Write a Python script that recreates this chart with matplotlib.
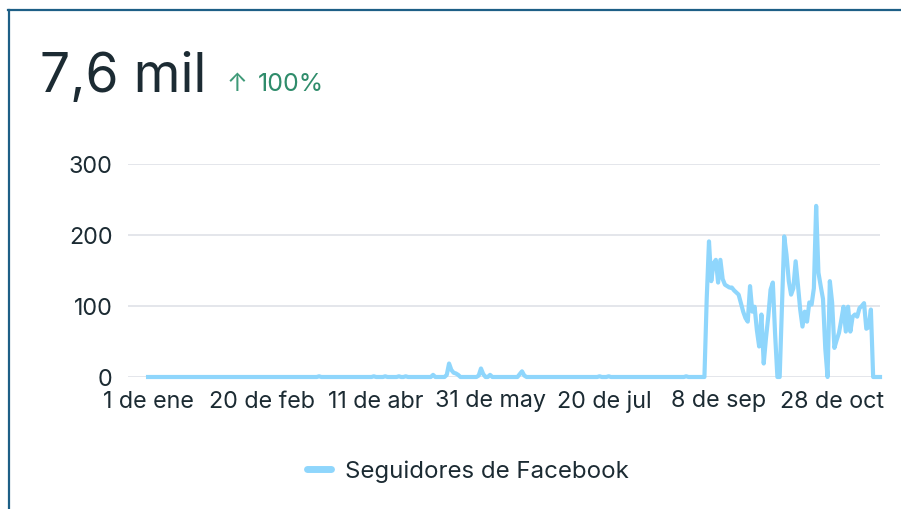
import numpy as np
import pandas as pd
from matplotlib import pyplot as plt
from matplotlib.lines import Line2D

plt.rcParams['font.family'] = ['Inter', 'DejaVu Sans']

# daily followers gained, 1 Jan - 18 Nov 2023
start, end = '2023-01-01', '2023-11-18'

# small bumps before September (day index from 1 Jan -> value)
small_days = [75, 99, 104, 110, 113, 125, 131, 132, 133, 134, 135, 136,
              145, 146, 147, 150, 163, 164, 165, 198, 202, 236]
small_vals = [1, 1, 1, 1, 1, 3, 3, 19, 10, 6, 5, 3,
              2, 12, 4, 3, 4, 8, 2, 1, 1, 1]

# from day 243 (31 Aug) to the end
active_start = 243
active_vals = [0, 0, 110, 191, 135, 160, 165, 133, 165, 138,
               130, 128, 126, 126, 122, 119, 116, 104, 92, 83,
               78, 128, 92, 99, 66, 43, 88, 19, 55, 85,
               123, 133, 60, 0, 0, 100, 198, 172, 135, 116,
               125, 163, 130, 95, 71, 92, 78, 105, 102, 125,
               241, 147, 128, 110, 40, 0, 135, 105, 41, 52,
               62, 80, 99, 64, 99, 64, 85, 88, 85, 97,
               100, 104, 68, 70, 95, 0, 0, 0, 0]

tick_dates = ['2023-01-01', '2023-02-20', '2023-04-11', '2023-05-31',
              '2023-07-20', '2023-09-08', '2023-10-28']
tick_labels = ['1 de ene', '20 de feb', '11 de abr', '31 de may',
               '20 de jul', '8 de sep', '28 de oct']
y_ticks = [0, 100, 200, 300]

total_text = '7,6 mil'
change_text = '100%'
series_name = 'Seguidores de Facebook'

dates = pd.date_range(start, end, freq='D')
values = np.zeros(len(dates))
values[small_days] = small_vals
values[active_start:active_start + len(active_vals)] = active_vals

dark = '#1c2b33'
blue = '#8fd6fc'

fig = plt.figure(figsize=(9.01, 5.10), dpi=100)
ax = fig.add_axes([128 / 901, 1 - 378 / 510, 752 / 901, 213 / 510])

ax.plot(dates, values, color=blue, lw=3, solid_joinstyle='round',
        clip_on=False, zorder=3, label=series_name)

left = pd.Timestamp(start) - pd.Timedelta(days=8.8)
ax.set_xlim(left, pd.Timestamp(end))
ax.set_ylim(0, 300)
ax.set_yticks(y_ticks)
ax.set_xticks(pd.to_datetime(tick_dates))
ax.set_xticklabels(tick_labels)
ax.grid(axis='y', color='#e4e6eb', lw=1.4)
ax.set_axisbelow(True)
for s in ax.spines.values():
    s.set_visible(False)
ax.tick_params(axis='both', length=0, labelsize=16.8, colors=dark)
ax.tick_params(axis='y', pad=11)
ax.tick_params(axis='x', pad=9)

fig.text(40 / 901, 1 - 92 / 510, total_text, fontsize=38.5, color=dark,
         va='baseline', ha='left')
fig.text(227 / 901, 1 - 91 / 510, '↑', fontsize=18, color='#3f9a78',
         va='baseline', ha='left')
fig.text(258 / 901, 1 - 91 / 510, change_text, fontsize=18,
         color='#2f8c6b', va='baseline', ha='left')

fig.legend(loc='center', bbox_to_anchor=(468 / 901, 1 - 472 / 510),
           frameon=False, fontsize=17.3, handlelength=1.0, handletextpad=0.6,
           labelcolor=dark)
leg = fig.legends[0]
for h in leg.legend_handles:
    h.set_linewidth(5)
    h.set_solid_capstyle('round')

# card border
border = '#1d5f86'
fig.add_artist(Line2D([8 / 901, 1], [1 - 11 / 510] * 2, color=border, lw=1.6))
fig.add_artist(Line2D([8.5 / 901] * 2, [0, 1 - 11 / 510], color=border, lw=1.6))

fig.savefig('out.png', dpi=100)
